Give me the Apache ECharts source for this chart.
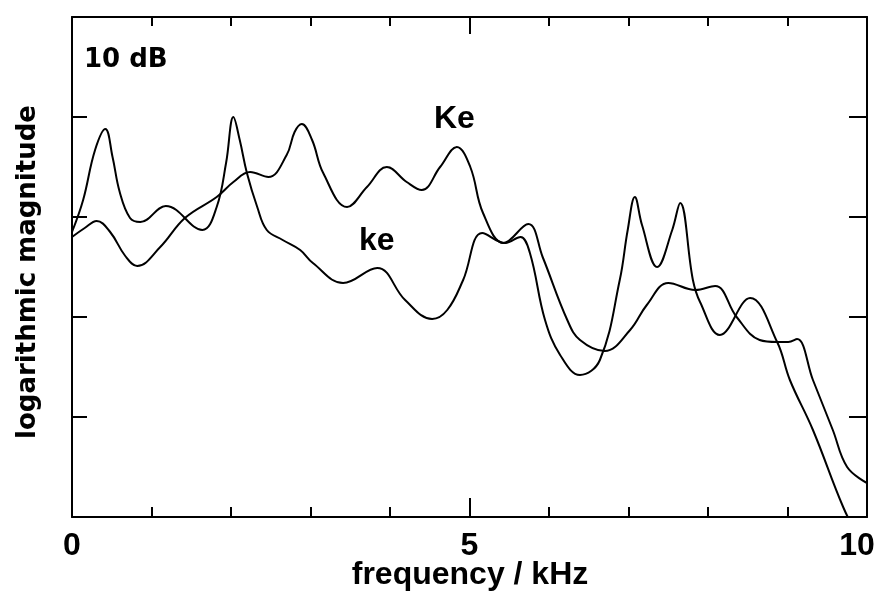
<!DOCTYPE html>
<html>
<head>
<meta charset="utf-8">
<script src="https://cdn.jsdelivr.net/npm/echarts@6/dist/echarts.min.js"></script>
<style>
html,body{margin:0;padding:0;background:#fff;}
#chart{width:887px;height:594px;}
</style>
</head>
<body>
<div id="chart"></div>
<script>
// Frequency (kHz) and logarithmic magnitude (dB, arbitrary reference)
const KeFreq = [0, 0.16, 0.31, 0.48, 0.67, 0.82, 1.11, 1.42, 1.82, 2.03, 2.24, 2.47, 2.70, 2.80, 2.89, 3.02, 3.16, 3.46, 3.71, 3.96, 4.21, 4.40, 4.63, 4.84, 5.01, 5.17, 5.43, 5.74, 5.92, 6.23, 6.39, 6.70, 7.02, 7.23, 7.50, 7.84, 8.09, 8.36, 8.65, 8.87, 9.01, 9.12, 9.32, 9.57, 9.75, 10.0];
const KeMag  = [28.0, 28.9, 29.6, 28.5, 26.1, 25.1, 27.0, 29.9, 32.0, 33.5, 34.5, 34.0, 36.2, 38.5, 39.3, 37.7, 34.4, 31.0, 33.0, 35.0, 33.5, 32.7, 35.0, 37.0, 35.0, 30.4, 27.4, 29.3, 26.0, 19.7, 17.7, 16.6, 18.7, 21.2, 23.4, 22.7, 23.1, 20.0, 17.7, 17.5, 17.5, 17.8, 13.7, 8.7, 5.0, 3.4];

const keFreq = [0, 0.14, 0.29, 0.42, 0.51, 0.60, 0.73, 0.86, 1.18, 1.64, 1.82, 1.94, 2.03, 2.11, 2.20, 2.33, 2.45, 2.65, 2.87, 3.03, 3.41, 3.84, 4.19, 4.53, 4.72, 4.92, 5.16, 5.45, 5.64, 5.76, 5.95, 6.14, 6.39, 6.64, 6.89, 6.99, 7.08, 7.17, 7.36, 7.55, 7.65, 7.81, 7.90, 8.15, 8.53, 8.87, 9.03, 9.32, 9.70, 9.91];
const keMag  = [28.5, 31.7, 36.7, 38.8, 36.0, 32.5, 29.9, 29.5, 31.1, 28.7, 31.0, 35.5, 40.0, 37.7, 34.4, 31.0, 28.7, 27.7, 26.7, 25.4, 23.4, 24.9, 21.7, 19.8, 20.7, 23.7, 28.4, 27.4, 28.0, 26.4, 19.7, 16.2, 14.2, 15.7, 23.7, 28.7, 32.0, 29.2, 25.0, 28.7, 31.4, 23.7, 21.5, 18.2, 21.9, 17.5, 13.7, 8.7, 1.0, -2.3];

const xTickLabels = {0: '0', 5: '5', 10: '10'};

const zip = (xs, ys) => xs.map((x, i) => [x, ys[i]]);

const FONT = 'Liberation Sans';
const chart = echarts.init(document.getElementById('chart'), null, {renderer: 'canvas'});

const axisLineStyle = {color: '#000', width: 2};
const baseX = {type: 'value', min: 0, max: 10, splitLine: {show: false}};
const baseY = {type: 'value', min: 0, max: 50, interval: 10, splitLine: {show: false}, axisLabel: {show: false}};

chart.setOption({
  animation: false,
  backgroundColor: '#fff',
  grid: {left: 72, right: 20, top: 17, bottom: 77, outerBoundsMode: 'none', containLabel: false},
  xAxis: [
    Object.assign({}, baseX, {
      position: 'bottom', interval: 1,
      axisLine: {show: true, onZero: false, lineStyle: axisLineStyle},
      axisTick: {show: true, inside: true, length: 10, lineStyle: axisLineStyle},
      axisLabel: {
        show: true, margin: 13, color: '#000', fontFamily: FONT, fontWeight: 'bold', fontSize: 32,
        formatter: v => (v === 10 ? '{r|' + xTickLabels[v] + '}' : (xTickLabels[v] !== undefined ? xTickLabels[v] : '')),
        rich: {r: {fontFamily: FONT, fontWeight: 'bold', fontSize: 32, color: '#000', padding: [0, 20, 0, 0]}}
      }
    }),
    Object.assign({}, baseX, {
      position: 'bottom', interval: 5,
      axisLine: {show: false, onZero: false},
      axisTick: {show: true, inside: true, length: 19, lineStyle: axisLineStyle},
      axisLabel: {show: false}
    }),
    Object.assign({}, baseX, {
      position: 'top', interval: 1,
      axisLine: {show: true, onZero: false, lineStyle: axisLineStyle},
      axisTick: {show: true, inside: true, length: 9, lineStyle: axisLineStyle},
      axisLabel: {show: false}
    }),
    Object.assign({}, baseX, {
      position: 'top', interval: 5,
      axisLine: {show: false, onZero: false},
      axisTick: {show: true, inside: true, length: 17, lineStyle: axisLineStyle},
      axisLabel: {show: false}
    })
  ],
  yAxis: [
    Object.assign({}, baseY, {
      position: 'left',
      axisLine: {show: true, onZero: false, lineStyle: axisLineStyle},
      axisTick: {show: true, inside: true, length: 15, lineStyle: axisLineStyle}
    }),
    Object.assign({}, baseY, {
      position: 'right',
      axisLine: {show: true, onZero: false, lineStyle: axisLineStyle},
      axisTick: {show: true, inside: true, length: 18, lineStyle: axisLineStyle}
    })
  ],
  series: [
    {
      name: 'Ke', type: 'line', xAxisIndex: 0, yAxisIndex: 0,
      data: zip(KeFreq, KeMag), smooth: 0.4, showSymbol: false, clip: true,
      lineStyle: {color: '#000', width: 2}
    },
    {
      name: 'ke', type: 'line', xAxisIndex: 0, yAxisIndex: 0,
      data: zip(keFreq, keMag), smooth: 0.4, showSymbol: false, clip: true,
      lineStyle: {color: '#000', width: 2}
    }
  ],
  graphic: [
    {type: 'text', left: 84, top: 47, style: {text: '10 dB', fill: '#000', font: 'bold 26px "DejaVu Sans"'}},
    {type: 'text', left: 434, top: 103, style: {text: 'Ke', fill: '#000', font: 'bold 32px "Liberation Sans"'}},
    {type: 'text', left: 359, top: 225, style: {text: 'ke', fill: '#000', font: 'bold 32px "Liberation Sans"'}},
    {type: 'text', x: 470, y: 575,
      style: {text: 'frequency / kHz', fill: '#000', font: 'bold 32px "Liberation Sans"', align: 'center', verticalAlign: 'middle'}},
    {type: 'text', x: 28, y: 272, rotation: Math.PI / 2,
      style: {text: 'logarithmic magnitude', fill: '#000', font: 'bold 26px "DejaVu Sans"', align: 'center', verticalAlign: 'middle'}}
  ]
});
</script>
</body>
</html>
